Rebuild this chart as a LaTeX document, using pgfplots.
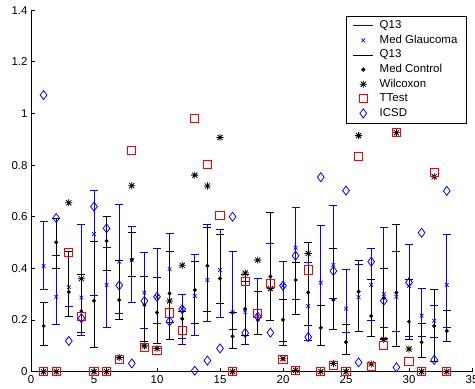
\documentclass[border=0pt]{standalone}
\usepackage{fontspec}
\setmainfont{Liberation Sans}
\usepackage{pgfplots}
\usepackage{pgfplotstable}
\pgfplotsset{compat=1.18}

% eight-pointed asterisk (plus and cross combined)
\pgfdeclareplotmark{star8}{%
  \pgfpathmoveto{\pgfqpoint{-\pgfplotmarksize}{0pt}}\pgfpathlineto{\pgfqpoint{\pgfplotmarksize}{0pt}}%
  \pgfpathmoveto{\pgfqpoint{0pt}{-\pgfplotmarksize}}\pgfpathlineto{\pgfqpoint{0pt}{\pgfplotmarksize}}%
  \pgfpathmoveto{\pgfqpoint{-0.707\pgfplotmarksize}{-0.707\pgfplotmarksize}}\pgfpathlineto{\pgfqpoint{0.707\pgfplotmarksize}{0.707\pgfplotmarksize}}%
  \pgfpathmoveto{\pgfqpoint{-0.707\pgfplotmarksize}{0.707\pgfplotmarksize}}\pgfpathlineto{\pgfqpoint{0.707\pgfplotmarksize}{-0.707\pgfplotmarksize}}%
  \pgfusepathqstroke}
% horizontal cap of an error bar
\pgfdeclareplotmark{cap}{%
  \pgfpathmoveto{\pgfqpoint{-\pgfplotmarksize}{0pt}}\pgfpathlineto{\pgfqpoint{\pgfplotmarksize}{0pt}}%
  \pgfusepathqstroke}

% glaucoma group: median and quartiles Q1/Q3
\pgfplotstableread{
x med lo hi
1 0.409 0.319 0.581
2 0.290 0.181 0.449
3 0.327 0.254 0.465
4 0.287 0.139 0.571
5 0.533 0.296 0.703
6 0.336 0.172 0.482
7 0.426 0.226 0.649
8 0.432 0.269 0.561
9 0.306 0.166 0.461
10 0.290 0.187 0.478
11 0.398 0.190 0.535
12 0.243 0.105 0.301
13 0.293 0.139 0.454
14 0.355 0.194 0.572
15 0.394 0.211 0.551
16 0.230 0.164 0.467
17 0.230 0.107 0.350
18 0.215 0.146 0.360
19 0.320 0.197 0.496
20 0.333 0.100 0.426
21 0.480 0.280 0.636
22 0.254 0.120 0.422
23 0.345 0.100 0.565
24 0.413 0.284 0.643
25 0.244 0.153 0.394
26 0.288 0.157 0.416
27 0.336 0.200 0.478
28 0.300 0.172 0.557
29 0.290 0.155 0.467
30 0.332 0.138 0.491
31 0.217 0.136 0.323
32 0.197 0.133 0.255
33 0.336 0.170 0.533
}\glaucoma

% control group: median and quartiles Q1/Q3
\pgfplotstableread{
x med lo hi
1 0.177 0.102 0.270
2 0.501 0.398 0.594
3 0.309 0.215 0.465
4 0.235 0.152 0.376
5 0.275 0.094 0.506
6 0.506 0.391 0.603
7 0.278 0.204 0.430
8 0.434 0.369 0.540
9 0.258 0.116 0.369
10 0.229 0.110 0.365
11 0.303 0.123 0.467
12 0.205 0.130 0.232
13 0.316 0.186 0.426
14 0.410 0.232 0.559
15 0.361 0.265 0.532
16 0.137 0.089 0.230
17 0.243 0.140 0.376
18 0.200 0.143 0.310
19 0.368 0.197 0.617
20 0.201 0.116 0.279
21 0.355 0.220 0.422
22 0.307 0.178 0.499
23 0.170 0.100 0.256
24 0.278 0.165 0.478
25 0.114 0.068 0.183
26 0.310 0.157 0.432
27 0.216 0.138 0.358
28 0.285 0.128 0.400
29 0.306 0.097 0.571
30 0.194 0.123 0.359
31 0.114 0.056 0.185
32 0.177 0.040 0.320
33 0.158 0.116 0.236
}\control

% test statistics per feature
\pgfplotstableread{
x wil tt icsd
1 0.000 0.000 1.071
2 0.000 0.000 0.595
3 0.654 0.462 0.119
4 0.360 0.215 0.207
5 0.000 0.000 0.639
6 0.000 0.000 0.555
7 0.055 0.048 0.334
8 0.720 0.855 0.032
9 0.100 0.094 0.274
10 0.090 0.081 0.290
11 0.274 0.227 0.195
12 0.412 0.161 0.242
13 0.761 0.981 0.004
14 0.719 0.803 0.043
15 0.907 0.604 0.090
16 0.000 0.000 0.600
17 0.382 0.350 0.150
18 0.432 0.226 0.213
19 0.322 0.342 0.151
20 0.050 0.048 0.333
21 0.005 0.005 0.449
22 0.458 0.394 0.134
23 0.000 0.000 0.753
24 0.032 0.023 0.390
25 0.000 0.000 0.701
26 0.914 0.833 0.036
27 0.030 0.020 0.426
28 0.125 0.100 0.275
29 0.925 0.927 0.017
30 0.088 0.039 0.346
31 0.000 0.000 0.538
32 0.755 0.770 0.046
33 0.000 0.000 0.700
}\tests

\begin{document}
\begin{tikzpicture}
\begin{axis}[
  scale only axis,
  width=441bp, height=361.6bp,
  xmin=0, xmax=35, ymin=0, ymax=1.4,
  axis lines*=left,
  axis line style={draw=black, line width=0.7bp},
  tick align=inside,
  major tick length=3.5bp,
  tick style={draw=black, line width=0.7bp},
  xtick={0,5,...,35},
  ytick={0,0.2,...,1.4},
  /pgf/number format/assume math mode=true,
  tick label style={font=\fontsize{11.5}{13}\selectfont},
  clip=false,
  legend cell align=left,
  legend style={at={(1,1)}, anchor=north east, xshift=-5.3bp, yshift=-5.6bp,
    font=\fontsize{11.5}{13}\selectfont, draw=black, line width=0.6bp,
    inner xsep=7bp, inner ysep=2.5bp, row sep=0pt,
    nodes={text height=8.5bp, text depth=2.5bp, inner ysep=1.8bp},
    /tikz/every odd column/.append style={column sep=4bp}},
  errb/.style={draw=none, forget plot,
    error bars/.cd, y dir=both, y explicit, error mark=none,
    error bar style={draw=#1, line width=0.9bp}},
  capm/.style={forget plot, only marks, mark=cap, mark size=4bp,
    mark options={draw=#1, line width=0.9bp}},
]
% glaucoma quartile bars and medians
\addplot[errb=blue] table[x=x, y=med,
  y error plus expr=\thisrow{hi}-\thisrow{med},
  y error minus expr=\thisrow{med}-\thisrow{lo}] {\glaucoma};
\addplot[capm=blue] table[x=x, y=lo] {\glaucoma};
\addplot[capm=blue] table[x=x, y=hi] {\glaucoma};
\addplot[forget plot, only marks, mark=x, mark size=2.6bp, mark options={draw=blue, line width=0.7bp}] table[x=x, y=med] {\glaucoma};
% control quartile bars and medians
\addplot[errb=black] table[x=x, y=med,
  y error plus expr=\thisrow{hi}-\thisrow{med},
  y error minus expr=\thisrow{med}-\thisrow{lo}] {\control};
\addplot[capm=black] table[x=x, y=lo] {\control};
\addplot[capm=black] table[x=x, y=hi] {\control};
\addplot[forget plot, only marks, mark=*, mark size=1.8bp, mark options={draw=black, fill=black}] table[x=x, y=med] {\control};
% statistics
\addplot[forget plot, only marks, mark=star8, mark size=3.6bp, mark options={draw=black, line width=0.8bp}] table[x=x, y=wil] {\tests};
\addplot[forget plot, only marks, mark=square, mark size=4.1bp, mark options={draw=red, fill=none, line width=1bp}] table[x=x, y=tt] {\tests};
\addplot[forget plot, only marks, mark=diamond, mark size=4.5bp, mark options={draw=blue, fill=none, line width=0.8bp}] table[x=x, y=icsd] {\tests};

% legend
\addlegendimage{legend image code/.code={\draw[draw=blue, line width=0.9bp] (0bp,0bp) -- (20bp,0bp);}}
\addlegendentry{Q13}
\addlegendimage{legend image code/.code={\path plot[only marks, mark=x, mark size=2.6bp, mark options={draw=blue, line width=0.7bp}] coordinates {(10bp,0bp)};}}
\addlegendentry{Med Glaucoma}
\addlegendimage{legend image code/.code={\draw[draw=black, line width=0.9bp] (0bp,0bp) -- (20bp,0bp);}}
\addlegendentry{Q13}
\addlegendimage{legend image code/.code={\path plot[only marks, mark=*, mark size=1.8bp, mark options={draw=black, fill=black}] coordinates {(10bp,0bp)};}}
\addlegendentry{Med Control}
\addlegendimage{legend image code/.code={\path plot[only marks, mark=star8, mark size=3.6bp, mark options={draw=black, line width=0.8bp}] coordinates {(10bp,0bp)};}}
\addlegendentry{Wilcoxon}
\addlegendimage{legend image code/.code={\path plot[only marks, mark=square, mark size=4.1bp, mark options={draw=red, line width=1bp}] coordinates {(10bp,0bp)};}}
\addlegendentry{TTest}
\addlegendimage{legend image code/.code={\path plot[only marks, mark=diamond, mark size=4.5bp, mark options={draw=blue, line width=0.8bp}] coordinates {(10bp,0bp)};}}
\addlegendentry{ICSD}
\end{axis}
\pgfresetboundingbox
\useasboundingbox (-31bp,-17.3bp) rectangle (444bp,371.7bp);
\end{tikzpicture}
\end{document}
